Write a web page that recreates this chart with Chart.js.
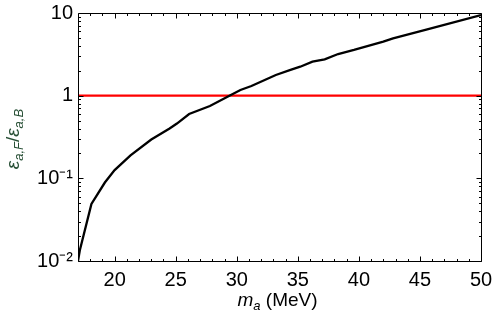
<!DOCTYPE html>
<html>
<head>
<meta charset="utf-8">
<script src="https://cdn.jsdelivr.net/npm/chart.js@4.4.0/dist/chart.umd.min.js"></script>
<style>
  body { margin: 0; background: #fff; }
</style>
</head>
<body>
<canvas id="ratio" width="495" height="320"></canvas>
<script>
// values
const massValues  = [17, 17.15, 18.1, 19.2, 20.0, 21.3, 23.0, 24.5, 25.1, 26.1, 27.8, 29.4, 30.3, 31.2, 32.7, 33.2, 34.4, 35.2, 36.2, 37.2, 38.3, 39.6, 42.0, 42.8, 45.6, 50];
const ratioValues = [0.01, 0.0135, 0.049, 0.089, 0.126, 0.19, 0.295, 0.40, 0.46, 0.60, 0.75, 1.0, 1.17, 1.31, 1.65, 1.78, 2.05, 2.24, 2.58, 2.75, 3.19, 3.57, 4.5, 4.94, 6.35, 9.45];
const unityMass  = [17, 50];
const unityRatio = [1, 1];
const xTickValues = [20, 25, 30, 35, 40, 45, 50];
const yTickValues = [0.01, 0.1, 1, 10];
const yTickLabels = ['10⁻²', '10⁻¹', '1', '10'];

const fontName = '"Liberation Sans", Arial, sans-serif';

function toPoints(xs, ys) {
  return xs.map((x, i) => ({ x: x, y: ys[i] }));
}

// no extra room for overhanging end labels, the layout padding does it
function noOverhang(s) {
  s.paddingLeft = 0; s.paddingRight = 0;
  s.paddingTop = 0; s.paddingBottom = 0;
}

// Mathematica style frame with inward ticks on all four sides
const frameTicks = {
  id: 'frameTicks',
  afterDatasetsDraw(chart) {
    const ctx = chart.ctx, a = chart.chartArea;
    const xs = chart.scales.x, ys = chart.scales.y;
    const L = Math.round(a.left) + 0.5, R = Math.round(a.right) + 0.5;
    const T = Math.round(a.top) + 0.5, B = Math.round(a.bottom) + 0.5;
    ctx.save();
    ctx.strokeStyle = '#000';
    ctx.lineWidth = 1;
    ctx.beginPath();
    ctx.rect(L, T, R - L, B - T);
    for (let m = 17; m <= 50; m++) {
      const px = Math.round(xs.getPixelForValue(m)) + 0.5;
      const len = m % 5 == 0 ? 5 : 2.5;
      ctx.moveTo(px, B); ctx.lineTo(px, B - len);
      ctx.moveTo(px, T); ctx.lineTo(px, T + len);
    }
    for (let d = -2; d <= 0; d++) {
      for (let k = 1; k < 10; k++) {
        const py = Math.round(ys.getPixelForValue(k * Math.pow(10, d))) + 0.5;
        const len = k == 1 ? 5 : 2.5;
        ctx.moveTo(L, py); ctx.lineTo(L + len, py);
        ctx.moveTo(R, py); ctx.lineTo(R - len, py);
      }
    }
    ctx.stroke();
    ctx.restore();
  }
};

function drawRuns(ctx, runs) {
  let w = 0;
  runs.forEach(r => { ctx.font = r.f; w += ctx.measureText(r.t).width; });
  let x = -w / 2;
  runs.forEach(r => {
    ctx.font = r.f;
    ctx.fillText(r.t, x, r.dy);
    x += ctx.measureText(r.t).width;
  });
}

const axisTitles = {
  id: 'axisTitles',
  afterDraw(chart) {
    const ctx = chart.ctx, a = chart.chartArea;
    ctx.save();
    ctx.textBaseline = 'alphabetic';
    ctx.textAlign = 'left';
    ctx.fillStyle = '#000';
    ctx.translate((a.left + a.right) / 2 - 2, 306);
    drawRuns(ctx, [
      { t: 'm', f: 'italic 19px ' + fontName, dy: 0 },
      { t: 'a', f: 'italic 13px ' + fontName, dy: 4 },
      { t: ' (MeV)', f: '19px ' + fontName, dy: 0 }
    ]);
    ctx.restore();

    ctx.save();
    ctx.textBaseline = 'alphabetic';
    ctx.textAlign = 'left';
    ctx.fillStyle = '#274f35';
    ctx.translate(19, (a.top + a.bottom) / 2 + 2);
    ctx.rotate(-Math.PI / 2);
    drawRuns(ctx, [
      { t: 'ε', f: 'italic 19px ' + fontName, dy: 0 },
      { t: 'a,F', f: 'italic 13px ' + fontName, dy: 4 },
      { t: '/', f: '19px ' + fontName, dy: 0 },
      { t: 'ε', f: 'italic 19px ' + fontName, dy: 0 },
      { t: 'a,B', f: 'italic 13px ' + fontName, dy: 4 }
    ]);
    ctx.restore();
  }
};

new Chart('ratio', {
  type: 'line',
  data: {
    datasets: [
      {
        data: toPoints(massValues, ratioValues),
        borderColor: '#000',
        borderWidth: 2.3,
        pointRadius: 0,
        tension: 0
      },
      {
        data: toPoints(unityMass, unityRatio),
        borderColor: '#ff0000',
        borderWidth: 2.3,
        pointRadius: 0
      }
    ]
  },
  options: {
    responsive: false,
    animation: false,
    layout: { padding: { top: 13, right: 14, left: 0, bottom: 0 } },
    plugins: { legend: { display: false }, tooltip: { enabled: false } },
    scales: {
      x: {
        type: 'linear',
        min: 17,
        max: 50,
        afterBuildTicks: s => { s.ticks = xTickValues.map(v => ({ value: v })); },
        afterFit: s => { s.height = 59; noOverhang(s); },
        grid: { display: false, drawTicks: false },
        border: { display: false },
        ticks: { font: { family: fontName, size: 20 }, color: '#000', padding: 7, maxRotation: 0 }
      },
      y: {
        type: 'logarithmic',
        min: 0.01,
        max: 10,
        afterBuildTicks: s => { s.ticks = yTickValues.map(v => ({ value: v })); },
        afterFit: s => { s.width = 78; noOverhang(s); },
        grid: { display: false, drawTicks: false },
        border: { display: false },
        ticks: {
          font: { family: fontName, size: 20 },
          color: '#000',
          padding: 5,
          callback: (v) => yTickLabels[yTickValues.indexOf(v)]
        }
      }
    }
  },
  plugins: [frameTicks, axisTitles]
});
</script>
</body>
</html>
